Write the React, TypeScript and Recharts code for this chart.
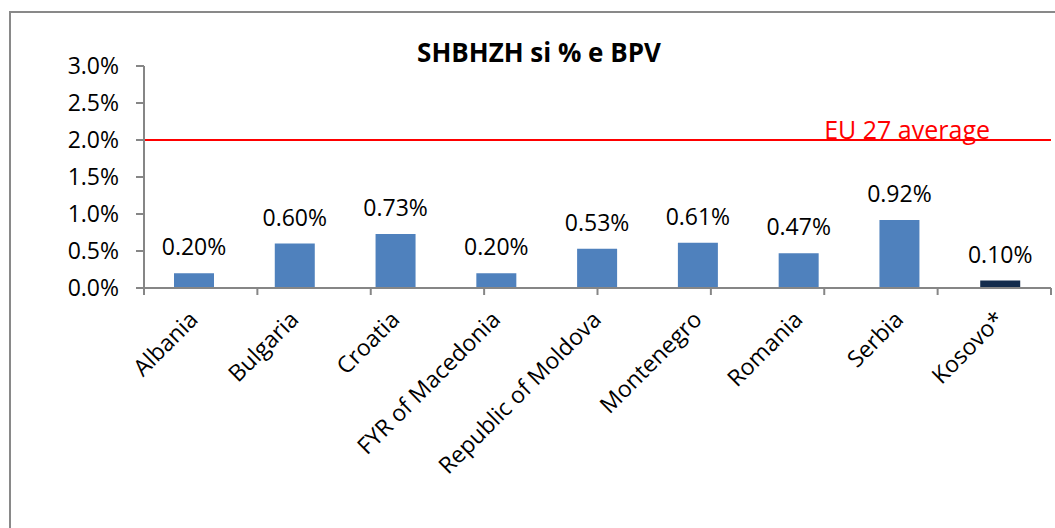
import React from 'react'
import { BarChart, Bar, XAxis, YAxis, ReferenceLine, LabelList, Cell } from 'recharts'

const COUNTRIES = [
  'Albania',
  'Bulgaria',
  'Croatia',
  'FYR of Macedonia',
  'Republic of Moldova',
  'Montenegro',
  'Romania',
  'Serbia',
  'Kosovo*',
]
const SHARE_OF_GDP = [0.2, 0.6, 0.73, 0.2, 0.53, 0.61, 0.47, 0.92, 0.1]
const Y_TICKS = [0, 0.5, 1, 1.5, 2, 2.5, 3]
const EU_AVERAGE = 2
const HIGHLIGHTED = 'Kosovo*'

// category boundaries, used only to place the x-axis tick marks between bars
const EDGE_TICKS = [...COUNTRIES.map((_, i) => i), COUNTRIES.length]

const data = COUNTRIES.map((name, i) => ({ name, value: SHARE_OF_GDP[i] }))

const FONT = '"Open Sans", sans-serif'
const AXIS_GRAY = '#868686'
const BAR_BLUE = '#4F81BD'
const BAR_DARK = '#132B4C'

function CountryTick({ x, y, payload }: { x?: number; y?: number; payload?: { value: string } }) {
  return (
    <g transform={`translate(${(x ?? 0) + 5},${(y ?? 0) + 32}) rotate(-45)`}>
      <text x={0} y={0} textAnchor="end" fontSize={23} fontFamily={FONT} fill="#000">
        {payload?.value}
      </text>
    </g>
  )
}

function NoLabel() {
  return <g />
}

function EuLabel(props: any) {
  const vb = props.viewBox ?? {}
  return (
    <text
      x={vb.x + vb.width - 61}
      y={vb.y - 1}
      textAnchor="end"
      fontSize={25}
      fontFamily={FONT}
      fill="#FF0000"
    >
      EU 27 average
    </text>
  )
}

export default function App() {
  return (
    <div
      style={{
        position: 'absolute',
        left: 0,
        top: 0,
        width: 1055,
        height: 528,
        overflow: 'hidden',
        background: '#fff',
      }}
    >
      <div
        style={{
          position: 'absolute',
          left: 9,
          top: 11,
          width: 1100,
          height: 600,
          border: '2px solid #898989',
        }}
      />
      <div
        style={{
          position: 'absolute',
          left: 539,
          top: 40,
          transform: 'translateX(-50%)',
          whiteSpace: 'nowrap',
          fontFamily: FONT,
          fontWeight: 700,
          fontSize: 26,
          lineHeight: '25px',
          color: '#000',
        }}
      >
        SHBHZH si % e BPV
      </div>
      <div style={{ position: 'absolute', left: 0, top: 0 }}>
        <BarChart width={1055} height={528} data={data} margin={{ top: 66, right: 4, left: 0, bottom: 0 }}>
          <XAxis
            xAxisId="a"
            type="number"
            domain={[0, COUNTRIES.length]}
            ticks={EDGE_TICKS}
            interval={0}
            allowDataOverflow
            height={1}
            tick={<NoLabel />}
            tickLine={{ stroke: AXIS_GRAY, strokeWidth: 2 }}
            tickSize={7}
            stroke={AXIS_GRAY}
            strokeWidth={2}
          />
          <XAxis
            xAxisId="b"
            dataKey="name"
            height={239}
            interval={0}
            axisLine={false}
            tickLine={false}
            tickSize={0}
            tickMargin={0}
            tick={<CountryTick />}
          />
          <YAxis
            width={144}
            domain={[0, 3]}
            ticks={Y_TICKS}
            tickFormatter={(v: number) => `${v.toFixed(1)}%`}
            tickSize={8}
            tickMargin={17}
            stroke={AXIS_GRAY}
            strokeWidth={2}
            tick={{ fontSize: 23, fill: '#000', fontFamily: FONT }}
          />
          <ReferenceLine
            xAxisId="b"
            y={EU_AVERAGE}
            stroke="#FF0000"
            strokeWidth={2}
            label={<EuLabel />}
          />
          <Bar xAxisId="b" dataKey="value" barSize={40} isAnimationActive={false}>
            {data.map((d) => (
              <Cell key={d.name} fill={d.name === HIGHLIGHTED ? BAR_DARK : BAR_BLUE} />
            ))}
            <LabelList
              dataKey="value"
              position="top"
              offset={18}
              formatter={(v: any) => `${Number(v).toFixed(2)}%`}
              fontSize={23}
              fontFamily={FONT}
              fill="#000"
            />
          </Bar>
        </BarChart>
      </div>
    </div>
  )
}
